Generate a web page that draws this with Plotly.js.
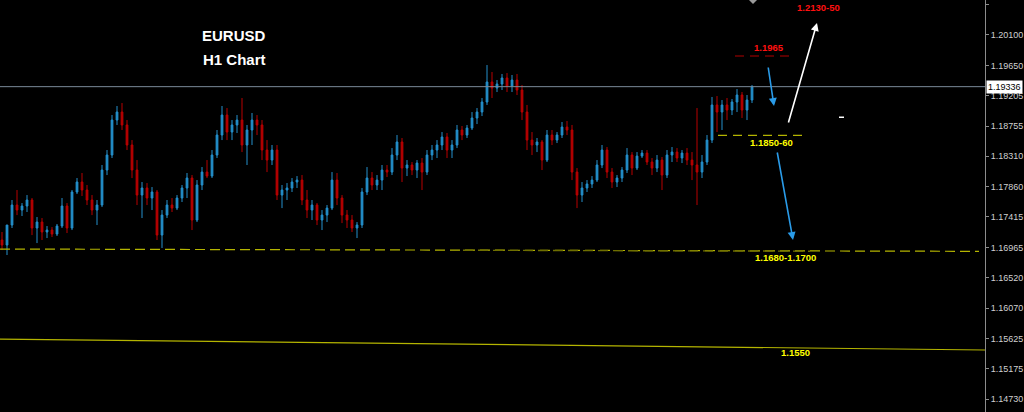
<!DOCTYPE html>
<html>
<head>
<meta charset="utf-8">
<script src="https://cdn.plot.ly/plotly-3.0.1.min.js"></script>
<style>html,body{margin:0;padding:0;background:#000;}#chart{width:1024px;height:412px;}</style>
</head>
<body>
<div id="chart"></div>
<script>
// EURUSD H1 candles
const openP = [1.17075,1.17001,1.17296,1.17591,1.17517,1.17576,1.17665,1.17252,1.17340,1.17193,
1.17222,1.17163,1.17281,1.17576,1.17252,1.17783,1.17930,1.17812,1.17665,1.17517,
1.17591,1.18107,1.18328,1.18844,1.18962,1.18771,1.18476,1.18107,1.17738,1.17842,
1.17694,1.17783,1.17148,1.17443,1.17591,1.17546,1.17694,1.17842,1.17989,1.17370,
1.17886,1.18077,1.18018,1.18328,1.18623,1.18918,1.18667,1.18771,1.18844,1.18476,
1.18697,1.18844,1.18771,1.18402,1.18254,1.18402,1.17738,1.17812,1.17842,1.17930,
1.17959,1.17665,1.17517,1.17591,1.17370,1.17443,1.17546,1.17959,1.17694,1.17443,
1.17370,1.17252,1.17296,1.17783,1.17989,1.17886,1.17959,1.18107,1.18077,1.18328,
1.18520,1.18136,1.18181,1.18107,1.18210,1.18077,1.18328,1.18402,1.18476,1.18594,
1.18402,1.18476,1.18697,1.18623,1.18726,1.18874,1.18962,1.19110,1.19405,1.19316,
1.19375,1.19464,1.19346,1.19434,1.19287,1.18962,1.18549,1.18476,1.18520,1.18254,
1.18623,1.18549,1.18623,1.18741,1.18697,1.18077,1.17738,1.17842,1.17901,1.17959,
1.18181,1.18402,1.18077,1.17930,1.17989,1.18107,1.18328,1.18136,1.18313,1.18357,
1.18225,1.18136,1.18254,1.18033,1.18328,1.18372,1.18284,1.18357,1.18254,1.18181,
1.18077,1.18225,1.18549,1.19066,1.18962,1.19066,1.18992,1.19110,1.19213,1.18992,
1.19139];
const highP = [1.17193,1.17104,1.17665,1.17812,1.17620,1.17738,1.17694,1.17414,1.17399,1.17281,
1.17266,1.17311,1.17694,1.17620,1.17812,1.17989,1.18063,1.17886,1.17738,1.17665,
1.18181,1.18402,1.18918,1.19051,1.19095,1.18844,1.18549,1.18254,1.17930,1.17915,
1.17856,1.17812,1.17517,1.17665,1.17694,1.17738,1.17886,1.18063,1.18033,1.17959,
1.18151,1.18254,1.18402,1.18697,1.19051,1.19021,1.18844,1.18918,1.19169,1.18771,
1.18948,1.18918,1.18844,1.18549,1.18476,1.18476,1.17886,1.17915,1.17989,1.18018,
1.18033,1.17812,1.17665,1.17620,1.17517,1.17591,1.18077,1.18063,1.17738,1.17517,
1.17443,1.17340,1.17842,1.18151,1.18077,1.18033,1.18181,1.18181,1.18431,1.18623,
1.18579,1.18254,1.18225,1.18254,1.18284,1.18402,1.18476,1.18549,1.18667,1.18653,
1.18549,1.18771,1.18756,1.18771,1.18962,1.19021,1.19169,1.19655,1.19552,1.19434,
1.19523,1.19537,1.19508,1.19523,1.19360,1.19066,1.18667,1.18579,1.18549,1.18697,
1.18697,1.18667,1.18815,1.18830,1.18771,1.18136,1.17930,1.17959,1.18018,1.18254,
1.18476,1.18446,1.18136,1.18033,1.18151,1.18431,1.18372,1.18372,1.18402,1.18402,
1.18284,1.18328,1.18299,1.18402,1.18446,1.18431,1.18402,1.18431,1.18372,1.19021,
1.18328,1.18623,1.19184,1.19198,1.19139,1.19169,1.19154,1.19301,1.19257,1.19213,
1.19360];
const lowP = [1.16927,1.16854,1.17252,1.17443,1.17429,1.17488,1.17148,1.17030,1.17075,1.17104,
1.17119,1.17134,1.17252,1.17178,1.17222,1.17753,1.17724,1.17591,1.17443,1.17296,
1.17561,1.18033,1.18284,1.18771,1.18697,1.18402,1.17989,1.17591,1.17399,1.17591,
1.17517,1.17075,1.16957,1.17399,1.17488,1.17517,1.17635,1.17694,1.17222,1.17340,
1.17812,1.17989,1.17989,1.18284,1.18549,1.18549,1.18549,1.18653,1.18372,1.18181,
1.18476,1.18623,1.18254,1.18077,1.18181,1.17665,1.17546,1.17665,1.17783,1.17842,
1.17591,1.17399,1.17370,1.17296,1.17222,1.17340,1.17517,1.17591,1.17325,1.17252,
1.17193,1.17104,1.17252,1.17738,1.17812,1.17812,1.17812,1.18004,1.18033,1.18254,
1.17930,1.18018,1.18033,1.17989,1.17812,1.18033,1.18254,1.18284,1.18402,1.18284,
1.18284,1.18431,1.18549,1.18579,1.18697,1.18785,1.18903,1.19066,1.19169,1.19257,
1.19287,1.19257,1.19257,1.19213,1.18844,1.18402,1.18328,1.18372,1.18107,1.18225,
1.18476,1.18505,1.18579,1.18623,1.17959,1.17546,1.17635,1.17783,1.17842,1.17930,
1.18136,1.17989,1.17842,1.17856,1.17930,1.18063,1.18033,1.18107,1.18284,1.18181,
1.18033,1.18077,1.17812,1.17989,1.18225,1.18225,1.18210,1.18181,1.17959,1.17591,
1.17989,1.18181,1.18505,1.18667,1.18697,1.18844,1.18918,1.18962,1.18874,1.18844,
1.19095];
const closeP = [1.17001,1.17296,1.17591,1.17517,1.17576,1.17665,1.17252,1.17340,1.17193,1.17222,
1.17163,1.17281,1.17576,1.17252,1.17783,1.17930,1.17812,1.17665,1.17517,1.17591,
1.18107,1.18328,1.18844,1.18962,1.18771,1.18476,1.18107,1.17738,1.17842,1.17694,
1.17783,1.17148,1.17443,1.17591,1.17546,1.17694,1.17842,1.17989,1.17370,1.17886,
1.18077,1.18018,1.18328,1.18623,1.18918,1.18667,1.18771,1.18844,1.18476,1.18697,
1.18844,1.18771,1.18402,1.18254,1.18402,1.17738,1.17812,1.17842,1.17930,1.17959,
1.17665,1.17517,1.17591,1.17370,1.17443,1.17546,1.17959,1.17694,1.17443,1.17370,
1.17252,1.17296,1.17783,1.17989,1.17886,1.17959,1.18107,1.18077,1.18328,1.18520,
1.18136,1.18181,1.18107,1.18210,1.18077,1.18328,1.18402,1.18476,1.18594,1.18402,
1.18476,1.18697,1.18623,1.18726,1.18874,1.18962,1.19110,1.19405,1.19316,1.19375,
1.19464,1.19346,1.19434,1.19287,1.18962,1.18549,1.18476,1.18520,1.18254,1.18623,
1.18549,1.18623,1.18741,1.18697,1.18077,1.17738,1.17842,1.17901,1.17959,1.18181,
1.18402,1.18077,1.17930,1.17989,1.18107,1.18328,1.18136,1.18313,1.18357,1.18225,
1.18136,1.18254,1.18033,1.18328,1.18372,1.18284,1.18357,1.18254,1.18181,1.18077,
1.18225,1.18549,1.19066,1.18962,1.19066,1.18992,1.19110,1.19213,1.18992,1.19139,
1.19336];

// price axis ticks
const tickValues = [1.20545,1.20100,1.19650,1.19205,1.18755,1.18310,1.17860,1.17415,1.16965,1.16520,1.16070,1.15625,1.15175,1.14730];
const tickLabels = ["1.20545","1.20100","1.19650","1.19205","1.18755","1.18310","1.17860","1.17415","1.16965","1.16520","1.16070","1.15625","1.15175","1.14730"];

// drawn levels
const currentPrice = 1.19336;
const supportZone = [1.16942, 1.16908];   // dashed 1.1680-1.1700 (left, right)
const supportLow = [1.15615, 1.15453];    // solid 1.1550 (left, right)
const level1850 = 1.18619;
const level1965 = 1.19788;
const levelLabels = ["1.2130-50","1.1965","1.1850-60","1.1680-1.1700","1.1550"];

const idx = openP.map((_, i) => i);

const PW = 985, PH = 412;
const px = v => v / PW;            // pixel -> paper x
const py = v => 1 - v / PH;        // pixel -> paper y

const trace = {
  type: 'candlestick',
  x: idx, open: openP, high: highP, low: lowP, close: closeP,
  increasing: {line: {color: '#2490cc', width: 1}, fillcolor: '#2490cc'},
  decreasing: {line: {color: '#b80000', width: 1}, fillcolor: '#b80000'},
  whiskerwidth: 0,
  hoverinfo: 'none',
  showlegend: false
};

const yellow = '#b4b400';
const shapes = [
  {type:'line', xref:'paper', yref:'y', x0:0, x1:1, y0:currentPrice, y1:currentPrice, line:{color:'#7b8a99', width:1}},
  {type:'line', xref:'paper', yref:'y', x0:0, x1:px(979), y0:supportZone[0], y1:supportZone[1], line:{color:yellow, width:1.2, dash:'10px,5px'}},
  {type:'line', xref:'paper', yref:'y', x0:px(463), x1:px(810), y0:supportZone[0]-0.00018, y1:supportZone[1]+0.00002, line:{color:'#6e6e00', width:1.4, dash:'10px,5px'}},
  {type:'line', xref:'paper', yref:'y', x0:0, x1:1, y0:supportLow[0], y1:supportLow[1], line:{color:yellow, width:1.2}},
  {type:'line', xref:'paper', yref:'y', x0:px(718), x1:px(805), y0:level1850, y1:level1850, line:{color:yellow, width:1.2, dash:'9px,6px'}},
  {type:'line', xref:'paper', yref:'y', x0:px(735), x1:px(791), y0:level1965, y1:level1965, line:{color:'#b00000', width:1.2, dash:'9px,6px'}},
  {type:'rect', xref:'paper', yref:'paper', x0:px(839), x1:px(844), y0:py(118), y1:py(116.5), line:{width:0}, fillcolor:'#ffffff'},
  {type:'path', xref:'paper', yref:'paper', path:'M '+px(749)+' 1 L '+px(757)+' 1 L '+px(753)+' '+py(4)+' Z', line:{width:0}, fillcolor:'#9a9a9a'}
];

const FONT = 'Liberation Sans, Arial, sans-serif';
const lblFont = (c) => ({family:FONT, size:9.5, color:c});
const txt = (x, y, t, font) => ({xref:'paper', yref:'paper', x:px(x), y:py(y), xanchor:'center', yanchor:'middle', text:t, showarrow:false, font:font});
const arrow = (hx, hy, tx, ty, c) => ({xref:'paper', yref:'paper', x:px(hx), y:py(hy), ax:tx-hx, ay:ty-hy, text:'', showarrow:true, arrowhead:2, arrowsize:1, arrowwidth:1.6, arrowcolor:c, standoff:0});
const annotations = [
  txt(234, 36, '<b>EURUSD</b>', {family:FONT, size:15, color:'#ffffff'}),
  txt(234, 59, '<b>H1 Chart</b>', {family:FONT, size:15, color:'#ffffff'}),
  txt(818, 8, '<b>'+levelLabels[0]+'</b>', lblFont('#ff1010')),
  txt(769, 48, '<b>'+levelLabels[1]+'</b>', lblFont('#ff1010')),
  txt(771, 143, '<b>'+levelLabels[2]+'</b>', lblFont('#ffff00')),
  txt(785, 257.5, '<b>'+levelLabels[3]+'</b>', lblFont('#ffff00')),
  txt(795, 352, '<b>'+levelLabels[4]+'</b>', lblFont('#ffff00')),
  arrow(817, 23, 788, 124, '#ffffff'),
  arrow(774, 106, 768, 66, '#2a9be8'),
  arrow(793, 240, 777, 151, '#2a9be8'),
  {xref:'paper', yref:'y', x:px(986), y:currentPrice, xanchor:'left', yanchor:'middle', text:'1.19336', showarrow:false, bgcolor:'#ffffff', borderpad:1, font:{family:FONT, size:9, color:'#000000'}}
];

const layout = {
  width: 1024, height: 412,
  margin: {l:0, r:39, t:0, b:0, pad:0},
  paper_bgcolor: '#000000', plot_bgcolor: '#000000',
  showlegend: false,
  boxgap: 0.5,
  xaxis: {range:[-0.4, -0.4 + PW/5], visible:false, rangeslider:{visible:false}, fixedrange:true},
  yaxis: {
    side:'right', range:[1.14539, 1.20614], tickmode:'array', tickvals:tickValues, ticktext:tickLabels,
    showgrid:false, zeroline:false, showline:true, linecolor:'#8c8c8c', linewidth:1,
    ticks:'outside', ticklen:3, tickcolor:'#8c8c8c',
    tickfont:{family:FONT, size:9, color:'#d0d0d0'}, fixedrange:true
  },
  shapes: shapes,
  annotations: annotations
};

Plotly.newPlot('chart', [trace], layout, {staticPlot:true, displayModeBar:false});
</script>
</body>
</html>
